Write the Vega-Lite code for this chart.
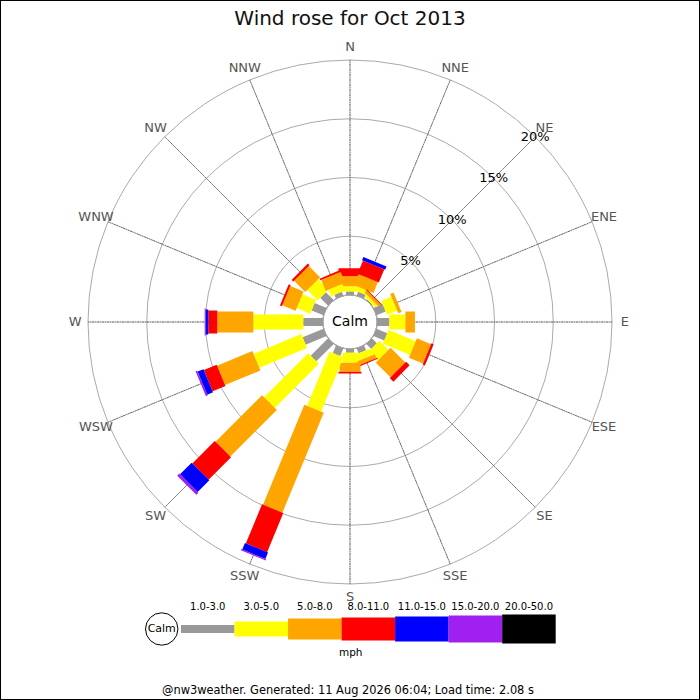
{
 "$schema": "https://vega.github.io/schema/vega-lite/v6.json",
 "width": 700, "height": 700,
 "autosize": {"type": "none"},
 "padding": 0,
 "background": "white",
 "config": {"view": {"stroke": "black", "strokeWidth": 2}, "font": "DejaVu Sans"},
 "title": {"text": "Wind rose for Oct 2013", "fontSize": 20, "fontWeight": "normal", "font": "DejaVu Sans", "color": "#111111", "anchor": "middle", "offset": -29},
 "datasets": {
  "dirs": [
   {"dir": "N", "deg": 0}, {"dir": "NNE", "deg": 22.5}, {"dir": "NE", "deg": 45}, {"dir": "ENE", "deg": 67.5},
   {"dir": "E", "deg": 90}, {"dir": "ESE", "deg": 112.5}, {"dir": "SE", "deg": 135}, {"dir": "SSE", "deg": 157.5},
   {"dir": "S", "deg": 180}, {"dir": "SSW", "deg": 202.5}, {"dir": "SW", "deg": 225}, {"dir": "WSW", "deg": 247.5},
   {"dir": "W", "deg": 270}, {"dir": "WNW", "deg": 292.5}, {"dir": "NW", "deg": 315}, {"dir": "NNW", "deg": 337.5}
  ],
  "grid": [{"pct": 5, "label": "5%"}, {"pct": 10, "label": "10%"}, {"pct": 15, "label": "15%"}, {"pct": 20, "label": "20%"}],
  "calm": [{"label": "Calm"}],
  "classes": [
   {"speed": "1.0-3.0", "rank": 1}, {"speed": "3.0-5.0", "rank": 2}, {"speed": "5.0-8.0", "rank": 3},
   {"speed": "8.0-11.0", "rank": 4}, {"speed": "11.0-15.0", "rank": 5}, {"speed": "15.0-20.0", "rank": 6}, {"speed": "20.0-50.0", "rank": 7}
  ],
  "unit": [{"text": "mph"}],
  "footer": [{"text": "@nw3weather. Generated: 11 Aug 2026 06:04; Load time: 2.08 s"}],
  "wind": [
   {"dir": "N", "deg": 0, "speed": "1.0-3.0", "pct": 0.3},
   {"dir": "N", "deg": 0, "speed": "3.0-5.0", "pct": 0.45},
   {"dir": "N", "deg": 0, "speed": "5.0-8.0", "pct": 0.85},
   {"dir": "N", "deg": 0, "speed": "8.0-11.0", "pct": 0.67},
   {"dir": "NNE", "deg": 22.5, "speed": "1.0-3.0", "pct": 0.35},
   {"dir": "NNE", "deg": 22.5, "speed": "3.0-5.0", "pct": 0.4},
   {"dir": "NNE", "deg": 22.5, "speed": "5.0-8.0", "pct": 1.0},
   {"dir": "NNE", "deg": 22.5, "speed": "8.0-11.0", "pct": 1.2},
   {"dir": "NNE", "deg": 22.5, "speed": "11.0-15.0", "pct": 0.3},
   {"dir": "NE", "deg": 45, "speed": "1.0-3.0", "pct": 0.1},
   {"dir": "NE", "deg": 45, "speed": "3.0-5.0", "pct": 0.25},
   {"dir": "NE", "deg": 45, "speed": "5.0-8.0", "pct": 0.25},
   {"dir": "NE", "deg": 45, "speed": "8.0-11.0", "pct": 0.08},
   {"dir": "ENE", "deg": 67.5, "speed": "1.0-3.0", "pct": 0.85},
   {"dir": "ENE", "deg": 67.5, "speed": "3.0-5.0", "pct": 0.93},
   {"dir": "ENE", "deg": 67.5, "speed": "5.0-8.0", "pct": 0.3},
   {"dir": "E", "deg": 90, "speed": "1.0-3.0", "pct": 1.05},
   {"dir": "E", "deg": 90, "speed": "3.0-5.0", "pct": 1.37},
   {"dir": "E", "deg": 90, "speed": "5.0-8.0", "pct": 0.81},
   {"dir": "ESE", "deg": 112.5, "speed": "1.0-3.0", "pct": 1.0},
   {"dir": "ESE", "deg": 112.5, "speed": "3.0-5.0", "pct": 2.5},
   {"dir": "ESE", "deg": 112.5, "speed": "5.0-8.0", "pct": 1.3},
   {"dir": "ESE", "deg": 112.5, "speed": "8.0-11.0", "pct": 0.2},
   {"dir": "SE", "deg": 135, "speed": "1.0-3.0", "pct": 0.6},
   {"dir": "SE", "deg": 135, "speed": "3.0-5.0", "pct": 1.1},
   {"dir": "SE", "deg": 135, "speed": "5.0-8.0", "pct": 1.77},
   {"dir": "SE", "deg": 135, "speed": "8.0-11.0", "pct": 0.43},
   {"dir": "SSE", "deg": 157.5, "speed": "1.0-3.0", "pct": 0.45},
   {"dir": "SSE", "deg": 157.5, "speed": "3.0-5.0", "pct": 0.6},
   {"dir": "SSE", "deg": 157.5, "speed": "5.0-8.0", "pct": 0.35},
   {"dir": "SSE", "deg": 157.5, "speed": "8.0-11.0", "pct": 0.1},
   {"dir": "S", "deg": 180, "speed": "1.0-3.0", "pct": 0.31},
   {"dir": "S", "deg": 180, "speed": "3.0-5.0", "pct": 0.86},
   {"dir": "S", "deg": 180, "speed": "5.0-8.0", "pct": 0.77},
   {"dir": "S", "deg": 180, "speed": "8.0-11.0", "pct": 0.14},
   {"dir": "SSW", "deg": 202.5, "speed": "1.0-3.0", "pct": 0.7},
   {"dir": "SSW", "deg": 202.5, "speed": "3.0-5.0", "pct": 5.0},
   {"dir": "SSW", "deg": 202.5, "speed": "5.0-8.0", "pct": 9.2},
   {"dir": "SSW", "deg": 202.5, "speed": "8.0-11.0", "pct": 3.6},
   {"dir": "SSW", "deg": 202.5, "speed": "11.0-15.0", "pct": 0.6},
   {"dir": "SSW", "deg": 202.5, "speed": "15.0-20.0", "pct": 0.1},
   {"dir": "SW", "deg": 225, "speed": "1.0-3.0", "pct": 2.1},
   {"dir": "SW", "deg": 225, "speed": "3.0-5.0", "pct": 5.3},
   {"dir": "SW", "deg": 225, "speed": "5.0-8.0", "pct": 5.6},
   {"dir": "SW", "deg": 225, "speed": "8.0-11.0", "pct": 2.7},
   {"dir": "SW", "deg": 225, "speed": "11.0-15.0", "pct": 1.4},
   {"dir": "SW", "deg": 225, "speed": "15.0-20.0", "pct": 0.25},
   {"dir": "WSW", "deg": 247.5, "speed": "1.0-3.0", "pct": 1.93},
   {"dir": "WSW", "deg": 247.5, "speed": "3.0-5.0", "pct": 4.4},
   {"dir": "WSW", "deg": 247.5, "speed": "5.0-8.0", "pct": 3.25},
   {"dir": "WSW", "deg": 247.5, "speed": "8.0-11.0", "pct": 1.18},
   {"dir": "WSW", "deg": 247.5, "speed": "11.0-15.0", "pct": 0.54},
   {"dir": "WSW", "deg": 247.5, "speed": "15.0-20.0", "pct": 0.15},
   {"dir": "W", "deg": 270, "speed": "1.0-3.0", "pct": 1.68},
   {"dir": "W", "deg": 270, "speed": "3.0-5.0", "pct": 4.25},
   {"dir": "W", "deg": 270, "speed": "5.0-8.0", "pct": 3.07},
   {"dir": "W", "deg": 270, "speed": "8.0-11.0", "pct": 0.76},
   {"dir": "W", "deg": 270, "speed": "11.0-15.0", "pct": 0.22},
   {"dir": "W", "deg": 270, "speed": "15.0-20.0", "pct": 0.09},
   {"dir": "WNW", "deg": 292.5, "speed": "1.0-3.0", "pct": 1.1},
   {"dir": "WNW", "deg": 292.5, "speed": "3.0-5.0", "pct": 1.25},
   {"dir": "WNW", "deg": 292.5, "speed": "5.0-8.0", "pct": 1.22},
   {"dir": "WNW", "deg": 292.5, "speed": "8.0-11.0", "pct": 0.18},
   {"dir": "NW", "deg": 315, "speed": "1.0-3.0", "pct": 0.95},
   {"dir": "NW", "deg": 315, "speed": "3.0-5.0", "pct": 1.25},
   {"dir": "NW", "deg": 315, "speed": "5.0-8.0", "pct": 1.35},
   {"dir": "NW", "deg": 315, "speed": "8.0-11.0", "pct": 0.2},
   {"dir": "NNW", "deg": 337.5, "speed": "1.0-3.0", "pct": 0.35},
   {"dir": "NNW", "deg": 337.5, "speed": "3.0-5.0", "pct": 0.6},
   {"dir": "NNW", "deg": 337.5, "speed": "5.0-8.0", "pct": 1.0},
   {"dir": "NNW", "deg": 337.5, "speed": "8.0-11.0", "pct": 0.15}
  ]
 },
 "layer": [
  {
   "data": {"name": "grid"},
   "mark": {"type": "arc", "filled": false, "stroke": "#aaaaaa", "strokeWidth": 1, "theta": 0, "theta2": 6.29, "x": 350, "y": 322},
   "encoding": {
    "radius": {"field": "pct", "type": "quantitative", "stack": null, "scale": {"type": "linear", "domain": [0, 20], "range": [27, 262], "zero": false, "nice": false}}
   }
  },
  {
   "data": {"name": "dirs"},
   "mark": {"type": "arc", "filled": false, "stroke": "#555555", "strokeWidth": 1, "strokeDash": [1, 1.5], "x": 350, "y": 322},
   "encoding": {
    "theta": {"field": "deg", "type": "quantitative", "stack": null, "scale": {"type": "linear", "domain": [0, 360], "range": [0, 6.283185307179586], "zero": false, "nice": false}},
    "theta2": {"field": "deg"},
    "radius": {"datum": 20, "type": "quantitative", "scale": {"type": "linear", "domain": [0, 20], "range": [27, 262], "zero": false, "nice": false}},
    "radius2": {"datum": 0}
   }
  },
  {
   "data": {"name": "dirs"},
   "mark": {"type": "text", "fontSize": 13, "color": "#555555", "x": 350, "y": 322},
   "encoding": {
    "theta": {"field": "deg", "type": "quantitative", "stack": null, "scale": {"type": "linear", "domain": [0, 360], "range": [0, 6.283185307179586], "zero": false, "nice": false}},
    "radius": {"datum": 21.1, "type": "quantitative", "scale": {"type": "linear", "domain": [0, 20], "range": [27, 262], "zero": false, "nice": false}},
    "text": {"field": "dir"}
   }
  },
  {
   "data": {"name": "wind"},
   "transform": [{"stack": "pct", "groupby": ["dir"], "as": ["p0", "p1"]}],
   "mark": {"type": "arc", "filled": false, "strokeJoin": "bevel", "strokeCap": "butt", "x": 350, "y": 322},
   "encoding": {
    "theta": {"field": "deg", "type": "quantitative", "stack": null, "scale": {"type": "linear", "domain": [0, 360], "range": [0, 6.283185307179586], "zero": false, "nice": false}},
    "theta2": {"field": "deg"},
    "radius": {"field": "p1", "type": "quantitative", "scale": {"type": "linear", "domain": [0, 20], "range": [27, 262], "zero": false, "nice": false}},
    "radius2": {"field": "p0"},
    "stroke": {"field": "speed", "type": "nominal", "legend": null, "scale": {"domain": ["1.0-3.0", "3.0-5.0", "5.0-8.0", "8.0-11.0", "11.0-15.0", "15.0-20.0", "20.0-50.0"], "range": ["#999999", "#ffff00", "#ffa500", "#ff0000", "#0000ff", "#a020f0", "#000000"]}},
    "strokeWidth": {"field": "speed", "type": "ordinal", "legend": null, "scale": {"type": "ordinal", "domain": ["1.0-3.0", "3.0-5.0", "5.0-8.0", "8.0-11.0", "11.0-15.0", "15.0-20.0", "20.0-50.0"], "range": [8, 15, 21, 23, 25, 27, 29]}}
   }
  },
  {
   "data": {"name": "calm"},
   "mark": {"type": "arc", "fill": "white", "theta": 0, "theta2": 6.29, "radius": 25.5, "x": 350, "y": 322},
   "encoding": {}
  },
  {
   "data": {"name": "calm"},
   "mark": {"type": "text", "fontSize": 14, "color": "black", "x": 350, "y": 322},
   "encoding": {"text": {"field": "label"}}
  },
  {
   "data": {"name": "grid"},
   "mark": {"type": "text", "fontSize": 13, "color": "black", "x": 350, "y": 322},
   "encoding": {
    "theta": {"datum": 45, "type": "quantitative", "scale": {"type": "linear", "domain": [0, 360], "range": [0, 6.283185307179586], "zero": false, "nice": false}},
    "radius": {"field": "pct", "type": "quantitative", "stack": null, "scale": {"type": "linear", "domain": [0, 20], "range": [27, 262], "zero": false, "nice": false}},
    "text": {"field": "label"}
   }
  },
  {
   "data": {"name": "classes"},
   "mark": {"type": "bar", "orient": "horizontal"},
   "encoding": {
    "x": {"aggregate": "count", "type": "quantitative", "stack": "zero", "axis": null, "scale": {"domain": [0, 7], "range": [181, 555.7], "nice": false, "zero": false}},
    "y": {"datum": "legend", "type": "nominal", "axis": null, "scale": {"range": [615, 643]}},
    "color": {"field": "speed", "type": "nominal", "legend": null, "scale": {"domain": ["1.0-3.0", "3.0-5.0", "5.0-8.0", "8.0-11.0", "11.0-15.0", "15.0-20.0", "20.0-50.0"], "range": ["#999999", "#ffff00", "#ffa500", "#ff0000", "#0000ff", "#a020f0", "#000000"]}},
    "size": {"field": "speed", "type": "ordinal", "legend": null, "scale": {"type": "ordinal", "domain": ["1.0-3.0", "3.0-5.0", "5.0-8.0", "8.0-11.0", "11.0-15.0", "15.0-20.0", "20.0-50.0"], "range": [8, 15, 21, 23, 25, 27, 29]}},
    "order": {"field": "rank"}
   }
  },
  {
   "data": {"name": "classes"},
   "mark": {"type": "text", "fontSize": 10, "color": "black", "dy": -22},
   "encoding": {
    "x": {"field": "speed", "type": "ordinal", "axis": null, "scale": {"type": "band", "domain": ["1.0-3.0", "3.0-5.0", "5.0-8.0", "8.0-11.0", "11.0-15.0", "15.0-20.0", "20.0-50.0"], "range": [181, 555.7], "paddingInner": 0, "paddingOuter": 0}},
    "y": {"datum": "legend", "type": "nominal", "axis": null, "scale": {"range": [615, 643]}},
    "text": {"field": "speed"}
   }
  },
  {
   "data": {"name": "calm"},
   "mark": {"type": "point", "shape": "circle", "size": 1050, "filled": true, "fill": "white", "stroke": "black", "strokeWidth": 1, "opacity": 1},
   "encoding": {
    "x": {"datum": -0.36, "type": "quantitative", "axis": null, "scale": {"domain": [0, 7], "range": [181, 555.7], "nice": false, "zero": false}},
    "y": {"datum": "legend", "type": "nominal", "axis": null, "scale": {"range": [615, 643]}}
   }
  },
  {
   "data": {"name": "calm"},
   "mark": {"type": "text", "fontSize": 11, "color": "black"},
   "encoding": {
    "x": {"datum": -0.36, "type": "quantitative", "axis": null, "scale": {"domain": [0, 7], "range": [181, 555.7], "nice": false, "zero": false}},
    "y": {"datum": "legend", "type": "nominal", "axis": null, "scale": {"range": [615, 643]}},
    "text": {"field": "label"}
   }
  },
  {
   "data": {"name": "unit"},
   "mark": {"type": "text", "fontSize": 10.5, "color": "black", "dy": 24},
   "encoding": {
    "x": {"datum": 3.17, "type": "quantitative", "axis": null, "scale": {"domain": [0, 7], "range": [181, 555.7], "nice": false, "zero": false}},
    "y": {"datum": "legend", "type": "nominal", "axis": null, "scale": {"range": [615, 643]}},
    "text": {"field": "text"}
   }
  },
  {
   "data": {"name": "footer"},
   "mark": {"type": "text", "fontSize": 11.4, "color": "black", "x": 348, "y": 691},
   "encoding": {"text": {"field": "text"}}
  }
 ],
 "resolve": {"scale": {"x": "independent", "y": "independent"}}
}
